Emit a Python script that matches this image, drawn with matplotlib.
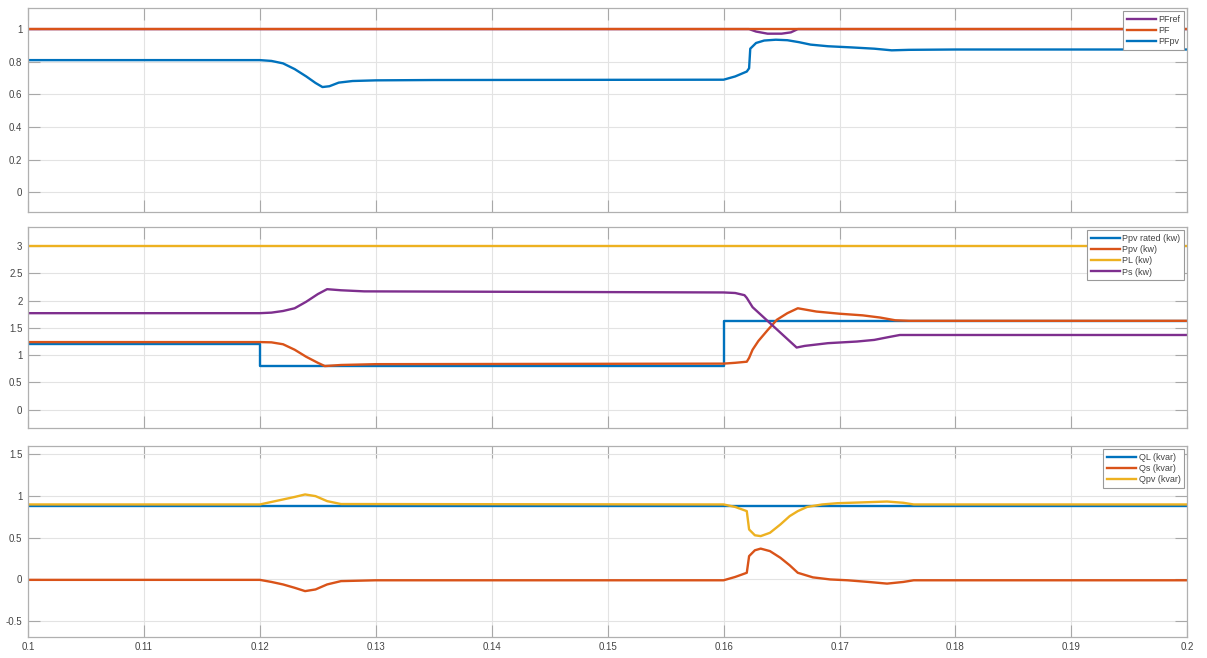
import numpy as np
import matplotlib.pyplot as plt

# MATLAB-style default line colours
C_BLUE = "#0072BD"
C_ORANGE = "#D95319"
C_YELLOW = "#EDB120"
C_PURPLE = "#7E2F8E"

# ---- power factor panel ----
t_pfref = [0.1, 0.1622, 0.1628, 0.1638, 0.165, 0.1658, 0.1664, 0.2]
pfref = [1.0, 1.0, 0.985, 0.972, 0.972, 0.98, 1.0, 1.0]

t_pf = [0.1, 0.2]
pf = [1.0, 1.0]

t_pfpv = [0.1, 0.12, 0.121, 0.122, 0.123, 0.124, 0.1248, 0.1254, 0.126, 0.1268,
          0.128, 0.13, 0.135, 0.16, 0.161, 0.162, 0.1622, 0.1623, 0.1628, 0.1635,
          0.1645, 0.1655, 0.1665, 0.1675, 0.169, 0.171, 0.173, 0.1745, 0.176, 0.18, 0.2]
pfpv = [0.81, 0.81, 0.805, 0.79, 0.755, 0.71, 0.67, 0.645, 0.65, 0.672,
        0.682, 0.686, 0.688, 0.69, 0.71, 0.74, 0.76, 0.88, 0.915, 0.93,
        0.935, 0.932, 0.92, 0.905, 0.895, 0.888, 0.88, 0.87, 0.873, 0.875, 0.875]

# ---- active power panel ----
t_ppv_rated = [0.1, 0.12, 0.12, 0.16, 0.16, 0.2]
ppv_rated = [1.2, 1.2, 0.8, 0.8, 1.62, 1.62]

t_ppv = [0.1, 0.12, 0.121, 0.122, 0.123, 0.124, 0.125, 0.1256, 0.127, 0.13,
         0.16, 0.161, 0.162, 0.1622, 0.1625, 0.163, 0.1638, 0.1646, 0.1655, 0.1664,
         0.168, 0.17, 0.172, 0.1735, 0.1748, 0.176, 0.2]
ppv = [1.24, 1.24, 1.235, 1.2, 1.1, 0.97, 0.86, 0.8, 0.82, 0.835,
       0.845, 0.86, 0.88, 0.95, 1.1, 1.26, 1.46, 1.65, 1.77, 1.86,
       1.8, 1.76, 1.73, 1.69, 1.64, 1.63, 1.63]

t_pl = [0.1, 0.2]
pl = [3.0, 3.0]

t_ps = [0.1, 0.12, 0.121, 0.122, 0.123, 0.124, 0.125, 0.1258, 0.127, 0.129,
        0.16, 0.161, 0.1618, 0.162, 0.1625, 0.1663, 0.167, 0.169, 0.1715, 0.173,
        0.1742, 0.1752, 0.2]
ps = [1.77, 1.77, 1.78, 1.81, 1.86, 1.98, 2.12, 2.21, 2.19, 2.17,
      2.15, 2.14, 2.1, 2.05, 1.88, 1.14, 1.17, 1.22, 1.25, 1.28,
      1.33, 1.37, 1.37]

# ---- reactive power panel ----
t_ql = [0.1, 0.2]
ql = [0.88, 0.88]

t_qs = [0.1, 0.12, 0.121, 0.122, 0.123, 0.1239, 0.1248, 0.1258, 0.127, 0.13,
        0.16, 0.161, 0.162, 0.1622, 0.1627, 0.1632, 0.164, 0.1649, 0.1657, 0.1664,
        0.1677, 0.1692, 0.1707, 0.1725, 0.1741, 0.1755, 0.1764, 0.2]
qs = [-0.005, -0.005, -0.03, -0.06, -0.1, -0.14, -0.12, -0.06, -0.02, -0.01,
      -0.01, 0.03, 0.08, 0.28, 0.35, 0.37, 0.34, 0.26, 0.17, 0.08,
      0.025, 0.0, -0.01, -0.03, -0.05, -0.03, -0.01, -0.01]

t_qpv = [0.1, 0.12, 0.121, 0.122, 0.123, 0.1239, 0.1248, 0.1258, 0.127, 0.16,
         0.161, 0.162, 0.1622, 0.1627, 0.1632, 0.164, 0.1649, 0.1657, 0.1664, 0.1672,
         0.1685, 0.1698, 0.172, 0.1741, 0.1755, 0.1764, 0.2]
qpv = [0.9, 0.9, 0.93, 0.96, 0.99, 1.02, 1.0, 0.94, 0.905, 0.9,
       0.87, 0.82, 0.6, 0.53, 0.52, 0.56, 0.66, 0.76, 0.82, 0.87,
       0.9, 0.915, 0.925, 0.935, 0.92, 0.9, 0.9]

x_ticks = [0.1, 0.11, 0.12, 0.13, 0.14, 0.15, 0.16, 0.17, 0.18, 0.19, 0.2]
x_ticklabels = ["0.1", "0.11", "0.12", "0.13", "0.14", "0.15", "0.16", "0.17", "0.18", "0.19", "0.2"]

pf_ticks = [0, 0.2, 0.4, 0.6, 0.8, 1]
pf_ticklabels = ["0", "0.2", "0.4", "0.6", "0.8", "1"]
p_ticks = [0, 0.5, 1, 1.5, 2, 2.5, 3]
p_ticklabels = ["0", "0.5", "1", "1.5", "2", "2.5", "3"]
q_ticks = [-0.5, 0, 0.5, 1, 1.5]
q_ticklabels = ["-0.5", "0", "0.5", "1", "1.5"]

plt.rcParams["font.family"] = ["Liberation Sans", "DejaVu Sans"]

fig = plt.figure(figsize=(12.07, 6.58), dpi=100)
fig.patch.set_facecolor("white")

LW = 1.7
left, width = 0.0232, 0.9605
ax1 = fig.add_axes([left, 0.678, width, 0.310])
ax2 = fig.add_axes([left, 0.350, width, 0.305])
ax3 = fig.add_axes([left, 0.032, width, 0.290])


def style_axes(ax, yticks, yticklabels, ylim, show_xlabels):
    ax.set_xlim(0.1, 0.2)
    ax.set_ylim(*ylim)
    ax.set_xticks(x_ticks)
    ax.set_yticks(yticks)
    ax.set_yticklabels(yticklabels)
    if show_xlabels:
        ax.set_xticklabels(x_ticklabels)
    else:
        ax.set_xticklabels([])
    ax.grid(True, color="#e3e3e3", lw=0.8)
    ax.set_axisbelow(True)
    ax.tick_params(direction="in", length=8.5, width=0.8, color="#a8a8a8",
                   labelsize=7, labelcolor="#444444", top=True, right=True, pad=4)
    for sp in ax.spines.values():
        sp.set_color("#b0b0b0")
        sp.set_linewidth(0.9)


def add_legend(ax):
    leg = ax.legend(loc="upper right", fontsize=6.5, frameon=True, fancybox=False,
                    edgecolor="#9a9a9a", framealpha=1.0, handlelength=3.2,
                    borderaxespad=0.35, labelspacing=0.25, borderpad=0.4,
                    handletextpad=0.3)
    leg.get_frame().set_linewidth(0.8)
    for txt in leg.get_texts():
        txt.set_color("#444444")


ax1.plot(t_pfref, pfref, color=C_PURPLE, lw=LW, label="PFref")
ax1.plot(t_pf, pf, color=C_ORANGE, lw=LW, label="PF")
ax1.plot(t_pfpv, pfpv, color=C_BLUE, lw=LW, label="PFpv")
style_axes(ax1, pf_ticks, pf_ticklabels, (-0.12, 1.13), False)
add_legend(ax1)

ax2.plot(t_ppv_rated, ppv_rated, color=C_BLUE, lw=LW, label="Ppv rated (kw)")
ax2.plot(t_ppv, ppv, color=C_ORANGE, lw=LW, label="Ppv (kw)")
ax2.plot(t_pl, pl, color=C_YELLOW, lw=LW, label="PL (kw)")
ax2.plot(t_ps, ps, color=C_PURPLE, lw=LW, label="Ps (kw)")
style_axes(ax2, p_ticks, p_ticklabels, (-0.33, 3.35), False)
add_legend(ax2)

ax3.plot(t_ql, ql, color=C_BLUE, lw=LW, label="QL (kvar)")
ax3.plot(t_qs, qs, color=C_ORANGE, lw=LW, label="Qs (kvar)")
ax3.plot(t_qpv, qpv, color=C_YELLOW, lw=LW, label="Qpv (kvar)")
style_axes(ax3, q_ticks, q_ticklabels, (-0.69, 1.6), True)
add_legend(ax3)

fig.savefig("out.png", dpi=100, facecolor="white")
